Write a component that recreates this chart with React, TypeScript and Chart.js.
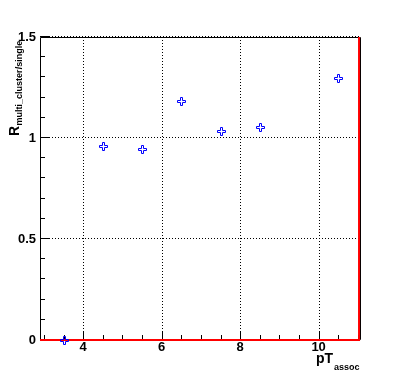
import React, { useEffect, useRef } from 'react';
import { Chart, registerables } from 'chart.js';

Chart.register(...registerables);

// ---- data ----
const pTAssoc = [3.5, 4.5, 5.5, 6.5, 7.5, 8.5, 10.5];
const ratio = [0.0, 0.958, 0.944, 1.183, 1.036, 1.056, 1.299];
const refLineX = [2.9, 11.03, 11.03];
const refLineY = [0, 0, 1.5];
const xTickValues = [4, 6, 8, 10];
const yTickValues = [0, 0.5, 1, 1.5];
const xTickLabels = ['4', '6', '8', '10'];
const yTickLabels = ['0', '0.5', '1', '1.5'];
const X_MIN = 2.9;
const X_MAX = 11.08;
const Y_MIN = 0;
const Y_MAX = 1.5;
const X_MINOR_START = 3;
const X_MINOR_END = 11;
const X_MINOR_STEP = 0.5;
const Y_MINOR_STEP = 0.1;

const FONT = '"Liberation Sans", Arial, Helvetica, sans-serif';

function makeMarker(): HTMLCanvasElement {
  const c = document.createElement('canvas');
  c.width = 11;
  c.height = 11;
  const g = c.getContext('2d')!;
  g.strokeStyle = '#0000ff';
  g.lineWidth = 1;
  const a = 1.5, b = 4.5, d = 6.5, e = 9.5;
  g.beginPath();
  g.moveTo(b, a);
  g.lineTo(d, a);
  g.lineTo(d, b);
  g.lineTo(e, b);
  g.lineTo(e, d);
  g.lineTo(d, d);
  g.lineTo(d, e);
  g.lineTo(b, e);
  g.lineTo(b, d);
  g.lineTo(a, d);
  g.lineTo(a, b);
  g.lineTo(b, b);
  g.closePath();
  g.stroke();
  return c;
}

let markerImg: HTMLCanvasElement | null = null;

const framePlugin = {
  id: 'rootFrame',
  beforeDatasetsDraw(chart: any) {
    const { ctx, chartArea } = chart;
    const xs = chart.scales.x;
    const ys = chart.scales.y;
    const { left, right, top, bottom } = chartArea;
    ctx.save();
    // dotted grid
    ctx.strokeStyle = '#000';
    ctx.lineWidth = 1;
    ctx.setLineDash([1, 2]);
    ctx.beginPath();
    xTickValues.forEach((v) => {
      const px = Math.round(xs.getPixelForValue(v)) + 0.5;
      ctx.moveTo(px, top);
      ctx.lineTo(px, bottom);
    });
    yTickValues.forEach((v) => {
      const py = Math.round(ys.getPixelForValue(v)) - 0.5;
      ctx.moveTo(left, py);
      ctx.lineTo(right, py);
    });
    ctx.stroke();
    ctx.setLineDash([]);
    // frame
    ctx.beginPath();
    ctx.rect(left + 0.5, top + 0.5, right - left - 1, bottom - top - 1);
    ctx.stroke();
    // ticks
    ctx.beginPath();
    for (let v = X_MINOR_START; v <= X_MINOR_END + 1e-6; v += X_MINOR_STEP) {
      const major = xTickValues.some((t) => Math.abs(t - v) < 1e-6);
      const len = major ? 9 : 5;
      const px = Math.round(xs.getPixelForValue(v)) + 0.5;
      ctx.moveTo(px, bottom);
      ctx.lineTo(px, bottom - len);
    }
    for (let v = Y_MIN; v <= Y_MAX + 1e-6; v += Y_MINOR_STEP) {
      const major = yTickValues.some((t) => Math.abs(t - v) < 1e-6);
      const len = major ? 9 : 5;
      const py = Math.round(ys.getPixelForValue(v)) - 0.5;
      ctx.moveTo(left, py);
      ctx.lineTo(left + len, py);
    }
    ctx.stroke();
    ctx.restore();
  },
  afterDatasetsDraw(chart: any) {
    const { ctx } = chart;
    const meta = chart.getDatasetMeta(1);
    if (!markerImg) return;
    meta.data.forEach((el: any) => {
      ctx.drawImage(markerImg, Math.round(el.x) - 5, Math.round(el.y) - 5);
    });
  },
  afterDraw(chart: any) {
    const { ctx } = chart;
    ctx.save();
    ctx.fillStyle = '#000';
    ctx.textBaseline = 'alphabetic';
    ctx.textAlign = 'left';
    // y title
    ctx.save();
    ctx.translate(19, 136);
    ctx.rotate(-Math.PI / 2);
    ctx.font = `bold 14px ${FONT}`;
    ctx.fillText('R', 0, 0);
    const rw = ctx.measureText('R').width;
    ctx.font = `bold 9px ${FONT}`;
    ctx.fillText('multi_cluster/single', rw + 0.5, 3);
    ctx.restore();
    // x title
    ctx.font = `bold 14px ${FONT}`;
    ctx.fillText('pT', 316, 363);
    const pw = ctx.measureText('pT').width;
    ctx.font = `bold 9px ${FONT}`;
    ctx.fillText('assoc', 316 + pw + 1, 370);
    ctx.restore();
  },
};

export default function App() {
  const ref = useRef<HTMLCanvasElement>(null);
  useEffect(() => {
    document.body.style.margin = '0';
    document.body.style.background = '#fff';
    markerImg = makeMarker();
    const chart = new Chart(ref.current!, {
      type: 'scatter',
      data: {
        datasets: [
          {
            type: 'line',
            data: refLineX.map((x, i) => ({ x, y: refLineY[i] })),
            borderColor: '#ff0000',
            borderWidth: 2,
            pointRadius: 0,
            fill: false,
            clip: false,
            order: 2,
          } as any,
          {
            data: pTAssoc.map((x, i) => ({ x, y: ratio[i] })),
            pointRadius: 0,
            order: 1,
            clip: false,
          },
        ],
      },
      options: {
        responsive: false,
        animation: false,
        events: [],
        layout: { padding: { left: 0, top: 37, right: 40, bottom: 0 } },
        plugins: { legend: { display: false }, tooltip: { enabled: false } },
        scales: {
          x: {
            type: 'linear',
            min: X_MIN,
            max: X_MAX,
            grid: { display: false, drawTicks: false },
            border: { display: false },
            afterBuildTicks: (s: any) => {
              s.ticks = xTickValues.map((v) => ({ value: v }));
            },
            afterFit: (s: any) => {
              s.height = 37;
            },
            ticks: {
              autoSkip: false,
              maxRotation: 0,
              padding: 0,
              color: '#000',
              font: { family: FONT, size: 13, weight: 'bold' },
              callback: (v: any) => xTickLabels[xTickValues.indexOf(Number(v))] ?? '',
            },
          },
          y: {
            type: 'linear',
            min: Y_MIN,
            max: Y_MAX,
            grid: { display: false, drawTicks: false },
            border: { display: false },
            afterBuildTicks: (s: any) => {
              s.ticks = yTickValues.map((v) => ({ value: v }));
            },
            afterFit: (s: any) => {
              s.width = 40;
            },
            ticks: {
              autoSkip: false,
              padding: 4,
              color: '#000',
              font: { family: FONT, size: 13, weight: 'bold' },
              callback: (v: any) => yTickLabels[yTickValues.indexOf(Number(v))] ?? '',
            },
          },
        },
      },
      plugins: [framePlugin],
    });
    return () => chart.destroy();
  }, []);
  return (
    <div style={{ position: 'absolute', left: 0, top: 0, width: 401, height: 377, background: '#fff' }}>
      <canvas ref={ref} width={401} height={377} />
    </div>
  );
}
